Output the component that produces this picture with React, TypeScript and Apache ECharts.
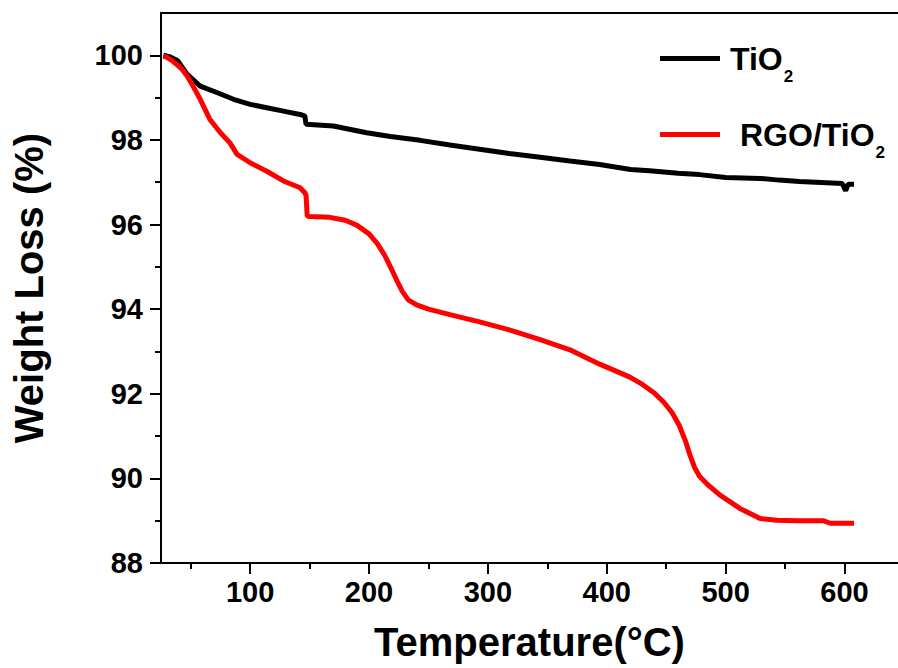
import React, { useEffect, useRef } from "react";
import * as echarts from "echarts";

const tio2Temp = [27, 32, 39, 47, 58, 72, 86, 100, 114, 128, 142, 146, 147, 170, 198, 218, 243, 268, 293, 318, 344, 369, 394, 420, 436, 460, 478, 500, 529, 545, 562, 585, 598, 601, 603, 608];
const tio2Wt = [100, 99.97, 99.87, 99.55, 99.27, 99.12, 98.96, 98.84, 98.76, 98.68, 98.6, 98.57, 98.37, 98.33, 98.17, 98.08, 97.99, 97.88, 97.78, 97.68, 97.59, 97.5, 97.42, 97.3, 97.27, 97.21, 97.18, 97.11, 97.09, 97.05, 97.02, 96.99, 96.97, 96.8, 96.95, 96.95];

const rgoTemp = [27, 30, 34, 38, 43, 47, 52, 58, 66, 75, 83, 89, 100, 114, 128, 142, 146, 147, 148, 150, 167, 180, 190, 200, 207, 213, 218, 223, 228, 233, 240, 250, 268, 293, 318, 344, 369, 394, 419, 430, 440, 448, 455, 461, 466, 470, 474, 478, 485, 495, 512, 529, 543, 560, 582, 588, 600, 608];
const rgoWt = [99.98, 99.95, 99.88, 99.79, 99.66, 99.51, 99.27, 98.96, 98.49, 98.17, 97.93, 97.66, 97.46, 97.26, 97.03, 96.87, 96.75, 96.7, 96.2, 96.19, 96.17, 96.1, 95.98, 95.78, 95.55, 95.28, 95.0, 94.7, 94.42, 94.22, 94.1, 94.0, 93.87, 93.7, 93.51, 93.28, 93.04, 92.7, 92.4, 92.22, 92.02, 91.8, 91.55, 91.25, 90.9, 90.55, 90.25, 90.05, 89.85, 89.61, 89.29, 89.05, 89.01, 89.0, 89.0, 88.94, 88.94, 88.94];

const xMajorTicks = [100, 200, 300, 400, 500, 600];
const xMinorTicks = [50, 150, 250, 350, 450, 550];
const yMajorTicks = [88, 90, 92, 94, 96, 98, 100];
const yMinorTicks = [89, 91, 93, 95, 97, 99];

const seriesNames = ["TiO2", "RGO/TiO2"];

const FONT = '"Liberation Sans", Arial, Helvetica, sans-serif';

export default function App() {
  const ref = useRef<HTMLDivElement>(null);
  useEffect(() => {
    if (!ref.current) return;
    const chart = echarts.init(ref.current, null, { renderer: "svg" });
    const axisLineStyle = { color: "#000", width: 2 };
    const labelStyle = { fontSize: 29, fontWeight: "bold", color: "#000", fontFamily: FONT };
    chart.setOption({
      animation: false,
      backgroundColor: "#fff",
      grid: { left: 161, right: 0, top: 13, bottom: 105, containLabel: false },
      legend: {
        orient: "vertical",
        left: 655,
        top: 27,
        itemWidth: 60,
        itemHeight: 5,
        itemGap: 23,
        icon: "rect",
        data: seriesNames,
        formatter: (name: string) =>
          name === "TiO2" ? "{a1|TiO}{b|2}" : "{a2|RGO/TiO}{b|2}",
        textStyle: {
          color: "#000",
          fontFamily: FONT,
          rich: {
            a1: { fontSize: 32, fontWeight: "bold", fontFamily: FONT, color: "#000", lineHeight: 52, padding: [0, 0, 0, 5] },
            a2: { fontSize: 32, fontWeight: "bold", fontFamily: FONT, color: "#000", lineHeight: 52, padding: [0, 0, 0, 15] },
            b: { fontSize: 17, fontWeight: "bold", fontFamily: FONT, color: "#000", lineHeight: 16, padding: [36, 0, 0, 1] },
          },
        },
      },
      xAxis: [
        {
          type: "value",
          position: "bottom",
          min: 25,
          max: 645,
          name: "Temperature(°C)",
          nameLocation: "middle",
          nameGap: 59,
          nameTextStyle: { fontSize: 40, fontWeight: "bold", color: "#000", fontFamily: FONT },
          axisLine: { show: true, onZero: false, lineStyle: axisLineStyle },
          axisTick: { show: true, inside: false, length: 11, lineStyle: axisLineStyle, customValues: xMajorTicks },
          axisLabel: { ...labelStyle, margin: 14, customValues: xMajorTicks },
          splitLine: { show: false },
        },
        {
          type: "value",
          position: "bottom",
          min: 25,
          max: 645,
          axisLine: { show: false, onZero: false },
          axisTick: { show: true, inside: false, length: 6, lineStyle: axisLineStyle, customValues: xMinorTicks },
          axisLabel: { show: false },
          splitLine: { show: false },
        },
        {
          type: "value",
          position: "top",
          min: 25,
          max: 645,
          axisLine: { show: true, onZero: false, lineStyle: axisLineStyle },
          axisTick: { show: false },
          axisLabel: { show: false },
          splitLine: { show: false },
        },
      ],
      yAxis: [
        {
          type: "value",
          position: "left",
          min: 88,
          max: 101,
          name: "Weight Loss (%)",
          nameLocation: "middle",
          nameGap: 112,
          nameRotate: 90,
          nameTextStyle: { fontSize: 40, fontWeight: "bold", color: "#000", fontFamily: FONT },
          axisLine: { show: true, onZero: false, lineStyle: axisLineStyle },
          axisTick: { show: true, inside: false, length: 11, lineStyle: axisLineStyle, customValues: yMajorTicks },
          axisLabel: { ...labelStyle, margin: 18, customValues: yMajorTicks },
          splitLine: { show: false },
        },
        {
          type: "value",
          position: "left",
          min: 88,
          max: 101,
          axisLine: { show: false, onZero: false },
          axisTick: { show: true, inside: false, length: 6, lineStyle: axisLineStyle, customValues: yMinorTicks },
          axisLabel: { show: false },
          splitLine: { show: false },
        },
      ],
      series: [
        {
          name: seriesNames[0],
          type: "line",
          xAxisIndex: 0,
          yAxisIndex: 0,
          showSymbol: false,
          symbol: "none",
          color: "#000000",
          lineStyle: { color: "#000000", width: 5 },
          data: tio2Temp.map((t, i) => [t, tio2Wt[i]]),
        },
        {
          name: seriesNames[1],
          type: "line",
          xAxisIndex: 0,
          yAxisIndex: 0,
          showSymbol: false,
          symbol: "none",
          color: "#ff0000",
          lineStyle: { color: "#ff0000", width: 5 },
          data: rgoTemp.map((t, i) => [t, rgoWt[i]]),
        },
      ],
    });
    return () => chart.dispose();
  }, []);
  return (
    <div
      ref={ref}
      style={{ position: "fixed", left: 0, top: 0, width: 898, height: 668, background: "#fff" }}
    />
  );
}
